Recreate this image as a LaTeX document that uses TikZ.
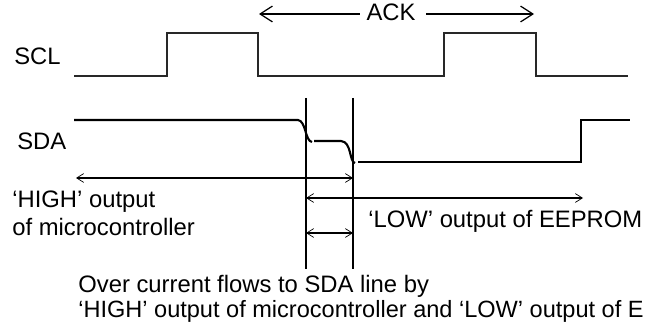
\documentclass[tikz,border=0pt]{standalone}
\usepackage{fontspec}
\setmainfont{Liberation Sans}
\usepackage{xcolor}
\usetikzlibrary{arrows.meta}
\definecolor{signalgray}{RGB}{40, 40, 40}
\tikzset{
    sigtext/.style={anchor=base west, inner sep=0pt, font=\fontsize{13.55}{16}\selectfont},
    sclline/.style={signalgray, line width=0.7pt},
    sdaline/.style={black, line width=1.2pt},
    spanline/.style={black, line width=1.1pt, {Straight Barb[length=4pt,width=5pt,line width=0.4pt]}-{Straight Barb[length=4pt,width=5pt,line width=0.4pt]}},
    ackline/.style={black, line width=0.7pt},
}

\begin{document}
\begin{tikzpicture}[x=0.02cm, y=-0.02cm, >=Stealth]
    \useasboundingbox (0,0) rectangle (646,324);
    % clock
    \draw[sclline] (74,76) -- (167,76) -- (167,33) -- (258,33) -- (258,76) -- (444,76) -- (444,33) -- (536,33) -- (536,76) -- (628,76);
    \node[sigtext] (scllabel) at (14,65) {SCL};
    % ack span
    \node[sigtext, anchor=base] (acklabel) at (391,21) {ACK};
    \coordinate (ackleft) at (259,14);
    \coordinate (ackright) at (534,14);
    \coordinate (ackstop) at (360,14);
    \coordinate (ackstart) at (426,14);
    \draw[ackline, {Straight Barb[length=7pt,width=9pt]}-] (ackleft) -- (ackstop);
    \draw[ackline, -{Straight Barb[length=7pt,width=9pt]}] (ackstart) -- (ackright);
    % data
    \node[sigtext] (sdalabel) at (17,150) {SDA};
    \draw[sdaline] (74,120) -- (298,120) .. controls (306,121) and (305,141) .. (312,142);
    \draw[sdaline] (314,141) -- (341,141) .. controls (352,142) and (349,162) .. (355,163);
    \draw[sdaline] (358,162) -- (581,162) -- (581,120) -- (630,120);
    % limits
    \coordinate (lefttop) at (306,98);
    \coordinate (leftbot) at (306,269);
    \coordinate (righttop) at (353,98);
    \coordinate (rightbot) at (353,269);
    \draw[sdaline] (lefttop) -- (leftbot);
    \draw[sdaline] (righttop) -- (rightbot);
    \draw[spanline] (76,178) -- (353,178);
    \draw[spanline] (306,198) -- (583,198);
    \draw[spanline] (306,233) -- (353,233);
    % labels
    \node[sigtext] (highlabel) at (12,208) {‘HIGH’ output};
    \node[sigtext] (microlabel) at (12,236) {of microcontroller};
    \node[sigtext] (lowlabel) at (368,228) {‘LOW’ output of EEPROM};
    \node[sigtext] (overlabel) at (78,293) {Over current flows to SDA line by};
    \node[sigtext, font=\fontsize{13.4}{16}\selectfont] (bothlabel) at (78,317) {‘HIGH’ output of microcontroller and ‘LOW’ output of E};
\end{tikzpicture}
\end{document}
